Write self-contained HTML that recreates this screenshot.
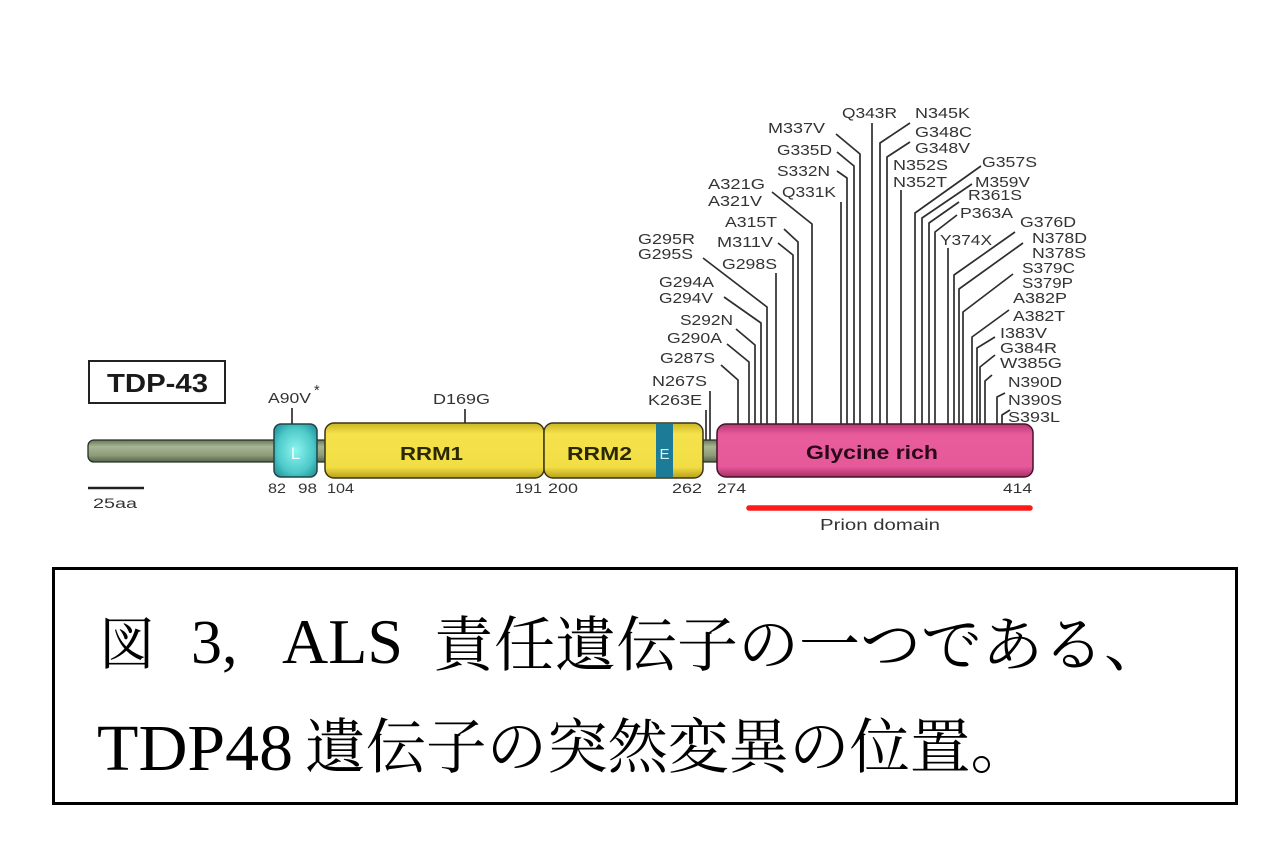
<!DOCTYPE html>
<html>
<head>
<meta charset="utf-8">
<style>
html,body{margin:0;padding:0;background:#fff;}
svg{display:block;}
.lb{font-family:"Liberation Sans",Arial,sans-serif;font-size:14.5px;fill:#333;}
.nm{font-family:"Liberation Sans",Arial,sans-serif;font-size:14px;fill:#333;}
.ln{fill:none;stroke:#2e2e2e;stroke-width:1.7;stroke-linejoin:round;}
.cap{font-family:"Liberation Serif","Noto Serif CJK SC","Noto Sans CJK JP",serif;fill:#000;}
</style>
</head>
<body>
<svg width="1286" height="865" viewBox="0 0 1286 865" xmlns="http://www.w3.org/2000/svg">
<defs>
  <linearGradient id="gBack" x1="0" y1="0" x2="0" y2="1">
    <stop offset="0" stop-color="#66765a"/>
    <stop offset="0.3" stop-color="#a6b592"/>
    <stop offset="0.7" stop-color="#8c9c78"/>
    <stop offset="1" stop-color="#55634a"/>
  </linearGradient>
  <radialGradient id="gTeal" cx="0.5" cy="0.5" r="0.6">
    <stop offset="0" stop-color="#8ef4ef"/>
    <stop offset="0.7" stop-color="#4cc9c9"/>
    <stop offset="1" stop-color="#2a9ea5"/>
  </radialGradient>
  <linearGradient id="gYel" x1="0" y1="0" x2="0" y2="1">
    <stop offset="0" stop-color="#cbb424"/>
    <stop offset="0.2" stop-color="#f5e24c"/>
    <stop offset="0.8" stop-color="#f2de44"/>
    <stop offset="1" stop-color="#b89f1a"/>
  </linearGradient>
  <linearGradient id="gPink" x1="0" y1="0" x2="0" y2="1">
    <stop offset="0" stop-color="#b83673"/>
    <stop offset="0.2" stop-color="#e85c9c"/>
    <stop offset="0.8" stop-color="#e6599a"/>
    <stop offset="1" stop-color="#a92e68"/>
  </linearGradient>
</defs>

<!-- TDP-43 label box -->
<rect x="89" y="361" width="136" height="42" fill="#fff" stroke="#222" stroke-width="2"/>
<text x="107" y="392" font-family="Liberation Sans, Arial, sans-serif" font-weight="bold" font-size="26" fill="#1a1a1a" textLength="101" lengthAdjust="spacingAndGlyphs">TDP-43</text>

<!-- backbone -->
<rect x="88" y="440" width="635" height="22" rx="6" fill="url(#gBack)" stroke="#263020" stroke-width="1.3"/>

<!-- L domain -->
<rect x="274" y="424" width="43" height="53" rx="7" fill="url(#gTeal)" stroke="#1d4646" stroke-width="1.5"/>
<text x="295.5" y="459" text-anchor="middle" font-family="Liberation Sans, Arial, sans-serif" font-size="17" fill="#e8ffff">L</text>

<!-- RRM1 / RRM2 -->
<rect x="325" y="423" width="219" height="55" rx="9" fill="url(#gYel)" stroke="#3a3616" stroke-width="1.5"/>
<rect x="544" y="423" width="159" height="55" rx="9" fill="url(#gYel)" stroke="#3a3616" stroke-width="1.5"/>
<rect x="656" y="424" width="17" height="53" fill="#1c7b97"/>
<text x="664.5" y="459" text-anchor="middle" font-family="Liberation Sans, Arial, sans-serif" font-size="15" fill="#d8f4f8">E</text>
<text x="400" y="460" font-family="Liberation Sans, Arial, sans-serif" font-weight="bold" font-size="18" fill="#2a2800" textLength="63" lengthAdjust="spacingAndGlyphs">RRM1</text>
<text x="567" y="460" font-family="Liberation Sans, Arial, sans-serif" font-weight="bold" font-size="18" fill="#2a2800" textLength="65" lengthAdjust="spacingAndGlyphs">RRM2</text>

<!-- Glycine rich -->
<rect x="717" y="424" width="316" height="53" rx="9" fill="url(#gPink)" stroke="#421428" stroke-width="1.5"/>
<text x="806" y="459" font-family="Liberation Sans, Arial, sans-serif" font-weight="bold" font-size="19" fill="#2a0818" textLength="132" lengthAdjust="spacingAndGlyphs">Glycine rich</text>

<!-- position numbers -->
<text class="nm" x="268" y="493" textLength="18" lengthAdjust="spacingAndGlyphs">82</text>
<text class="nm" x="298" y="493" textLength="19" lengthAdjust="spacingAndGlyphs">98</text>
<text class="nm" x="327" y="493" textLength="27" lengthAdjust="spacingAndGlyphs">104</text>
<text class="nm" x="515" y="493" textLength="27" lengthAdjust="spacingAndGlyphs">191</text>
<text class="nm" x="548" y="493" textLength="30" lengthAdjust="spacingAndGlyphs">200</text>
<text class="nm" x="672" y="493" textLength="30" lengthAdjust="spacingAndGlyphs">262</text>
<text class="nm" x="717" y="493" textLength="29" lengthAdjust="spacingAndGlyphs">274</text>
<text class="nm" x="1003" y="493" textLength="29" lengthAdjust="spacingAndGlyphs">414</text>

<!-- scale bar -->
<line x1="88" y1="488" x2="144" y2="488" stroke="#222" stroke-width="2.5"/>
<text class="nm" x="93" y="508" font-size="15" textLength="44" lengthAdjust="spacingAndGlyphs">25aa</text>

<!-- prion domain -->
<line x1="749" y1="508" x2="1030" y2="508" stroke="#ff1a1a" stroke-width="5.5" stroke-linecap="round"/>
<text x="820" y="530" font-family="Liberation Sans, Arial, sans-serif" font-size="16" fill="#333" textLength="120" lengthAdjust="spacingAndGlyphs">Prion domain</text>

<!-- A90V & D169G -->
<text class="lb" x="268" y="403" textLength="43" lengthAdjust="spacingAndGlyphs">A90V</text>
<text class="lb" x="314" y="395" font-size="11">*</text>
<line class="ln" x1="292" y1="408" x2="292" y2="424"/>
<text class="lb" x="433" y="404" textLength="57" lengthAdjust="spacingAndGlyphs">D169G</text>
<line class="ln" x1="465" y1="409" x2="465" y2="423"/>

<!-- mutation connector lines -->
<polyline class="ln" points="836,134 860,154 860,424"/>
<polyline class="ln" points="837,152 854,166 854,424"/>
<polyline class="ln" points="837,171 847,178 847,424"/>
<polyline class="ln" points="841,202 841,424"/>
<polyline class="ln" points="772,192 812,224 812,424"/>
<polyline class="ln" points="784,229 798,242 798,424"/>
<polyline class="ln" points="778,243 793,255 793,424"/>
<polyline class="ln" points="703,258 767,307 767,424"/>
<polyline class="ln" points="776,273 776,424"/>
<polyline class="ln" points="724,297 761,323 761,424"/>
<polyline class="ln" points="736,329 755,345 755,424"/>
<polyline class="ln" points="727,344 749,362 749,424"/>
<polyline class="ln" points="721,365 738,380 738,424"/>
<polyline class="ln" points="710,391 710,440"/>
<polyline class="ln" points="706,410 706,440"/>

<polyline class="ln" points="872,123 872,424"/>
<polyline class="ln" points="910,123 880,143 880,424"/>
<polyline class="ln" points="910,142 887,157 887,424"/>
<polyline class="ln" points="901,190 901,424"/>
<polyline class="ln" points="981,166 915,213 915,424"/>
<polyline class="ln" points="972,184 922,218 922,424"/>
<polyline class="ln" points="959,202 929,223 929,424"/>
<polyline class="ln" points="957,215 935,232 935,424"/>
<polyline class="ln" points="948,248 948,424"/>
<polyline class="ln" points="1015,232 954,275 954,424"/>
<polyline class="ln" points="1023,243 959,289 959,424"/>
<polyline class="ln" points="1013,274 963,312 963,424"/>
<polyline class="ln" points="1009,310 972,337 972,424"/>
<polyline class="ln" points="995,337 977,348 977,424"/>
<polyline class="ln" points="995,355 980,367 980,424"/>
<polyline class="ln" points="992,375 985,381 985,424"/>
<polyline class="ln" points="1005,393 997,397 997,424"/>
<polyline class="ln" points="1010,410 1002,415 1002,424"/>

<!-- mutation labels left -->
<text class="lb" x="768" y="133" textLength="57" lengthAdjust="spacingAndGlyphs">M337V</text>
<text class="lb" x="777" y="155" textLength="55" lengthAdjust="spacingAndGlyphs">G335D</text>
<text class="lb" x="777" y="176" textLength="53" lengthAdjust="spacingAndGlyphs">S332N</text>
<text class="lb" x="782" y="197" textLength="54" lengthAdjust="spacingAndGlyphs">Q331K</text>
<text class="lb" x="708" y="189" textLength="57" lengthAdjust="spacingAndGlyphs">A321G</text>
<text class="lb" x="708" y="206" textLength="54" lengthAdjust="spacingAndGlyphs">A321V</text>
<text class="lb" x="725" y="227" textLength="52" lengthAdjust="spacingAndGlyphs">A315T</text>
<text class="lb" x="717" y="247" textLength="56" lengthAdjust="spacingAndGlyphs">M311V</text>
<text class="lb" x="638" y="244" textLength="57" lengthAdjust="spacingAndGlyphs">G295R</text>
<text class="lb" x="638" y="259" textLength="55" lengthAdjust="spacingAndGlyphs">G295S</text>
<text class="lb" x="722" y="269" textLength="55" lengthAdjust="spacingAndGlyphs">G298S</text>
<text class="lb" x="659" y="287" textLength="55" lengthAdjust="spacingAndGlyphs">G294A</text>
<text class="lb" x="659" y="303" textLength="54" lengthAdjust="spacingAndGlyphs">G294V</text>
<text class="lb" x="680" y="325" textLength="53" lengthAdjust="spacingAndGlyphs">S292N</text>
<text class="lb" x="667" y="343" textLength="55" lengthAdjust="spacingAndGlyphs">G290A</text>
<text class="lb" x="660" y="363" textLength="55" lengthAdjust="spacingAndGlyphs">G287S</text>
<text class="lb" x="652" y="386" textLength="55" lengthAdjust="spacingAndGlyphs">N267S</text>
<text class="lb" x="648" y="405" textLength="54" lengthAdjust="spacingAndGlyphs">K263E</text>

<!-- mutation labels right -->
<text class="lb" x="842" y="118" textLength="55" lengthAdjust="spacingAndGlyphs">Q343R</text>
<text class="lb" x="915" y="118" textLength="55" lengthAdjust="spacingAndGlyphs">N345K</text>
<text class="lb" x="915" y="137" textLength="57" lengthAdjust="spacingAndGlyphs">G348C</text>
<text class="lb" x="915" y="153" textLength="55" lengthAdjust="spacingAndGlyphs">G348V</text>
<text class="lb" x="893" y="170" textLength="55" lengthAdjust="spacingAndGlyphs">N352S</text>
<text class="lb" x="893" y="187" textLength="54" lengthAdjust="spacingAndGlyphs">N352T</text>
<text class="lb" x="982" y="167" textLength="55" lengthAdjust="spacingAndGlyphs">G357S</text>
<text class="lb" x="975" y="187" textLength="55" lengthAdjust="spacingAndGlyphs">M359V</text>
<text class="lb" x="968" y="200" textLength="54" lengthAdjust="spacingAndGlyphs">R361S</text>
<text class="lb" x="960" y="218" textLength="53" lengthAdjust="spacingAndGlyphs">P363A</text>
<text class="lb" x="940" y="245" textLength="52" lengthAdjust="spacingAndGlyphs">Y374X</text>
<text class="lb" x="1020" y="227" textLength="56" lengthAdjust="spacingAndGlyphs">G376D</text>
<text class="lb" x="1032" y="243" textLength="55" lengthAdjust="spacingAndGlyphs">N378D</text>
<text class="lb" x="1032" y="258" textLength="54" lengthAdjust="spacingAndGlyphs">N378S</text>
<text class="lb" x="1022" y="273" textLength="53" lengthAdjust="spacingAndGlyphs">S379C</text>
<text class="lb" x="1022" y="288" textLength="51" lengthAdjust="spacingAndGlyphs">S379P</text>
<text class="lb" x="1013" y="303" textLength="54" lengthAdjust="spacingAndGlyphs">A382P</text>
<text class="lb" x="1013" y="321" textLength="52" lengthAdjust="spacingAndGlyphs">A382T</text>
<text class="lb" x="1000" y="338" textLength="47" lengthAdjust="spacingAndGlyphs">I383V</text>
<text class="lb" x="1000" y="353" textLength="57" lengthAdjust="spacingAndGlyphs">G384R</text>
<text class="lb" x="1000" y="368" textLength="62" lengthAdjust="spacingAndGlyphs">W385G</text>
<text class="lb" x="1008" y="387" textLength="54" lengthAdjust="spacingAndGlyphs">N390D</text>
<text class="lb" x="1008" y="405" textLength="54" lengthAdjust="spacingAndGlyphs">N390S</text>
<text class="lb" x="1008" y="422" textLength="52" lengthAdjust="spacingAndGlyphs">S393L</text>

<!-- caption box -->
<rect x="53.5" y="568.5" width="1183" height="235" fill="#fff" stroke="#000" stroke-width="3"/>
<text class="cap" x="99" y="664" font-size="56">図</text>
<text class="cap" x="191" y="663" font-size="62">3,</text>
<text class="cap" x="282" y="663" font-size="64">ALS</text>
<text class="cap" x="433" y="666" font-size="60" textLength="732" lengthAdjust="spacingAndGlyphs">責任遺伝子の一つである、</text>
<text class="cap" x="97" y="770" font-size="66" textLength="196" lengthAdjust="spacingAndGlyphs">TDP48</text>
<text class="cap" x="305" y="768" font-size="60" textLength="726" lengthAdjust="spacingAndGlyphs">遺伝子の突然変異の位置。</text>
</svg>
</body>
</html>
